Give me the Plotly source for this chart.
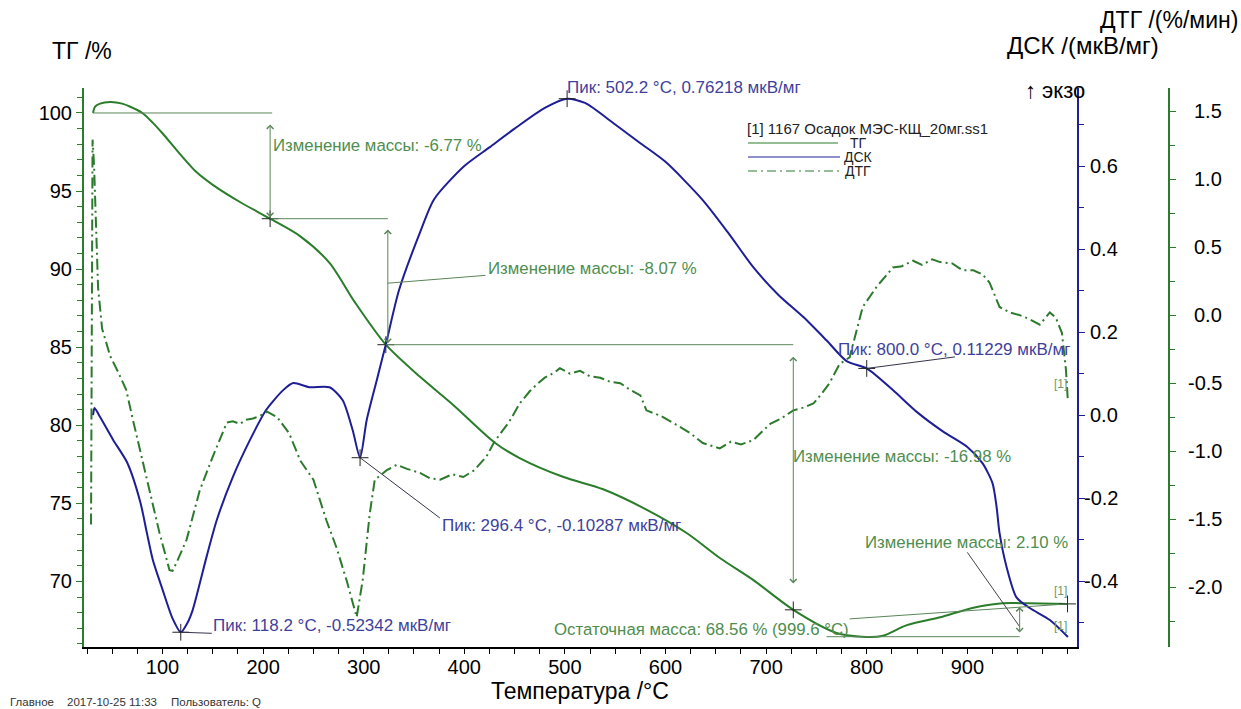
import plotly.graph_objects as go

# ---------------- data ----------------
tg_temp = [31, 33, 38, 48, 60, 68, 80, 90, 100, 117, 134, 150, 177, 207, 237, 266, 291, 322,
           356, 389, 430, 455, 498, 538, 581, 621, 654, 687, 727, 770, 795, 815, 840, 873,
           905, 935, 960, 999.6]
tg_val = [100.0, 100.4, 100.6, 100.7, 100.6, 100.4, 100.0, 99.4, 98.7, 97.4, 96.2, 95.4, 94.3,
          93.23, 92.1, 90.4, 87.9, 85.16, 83.1, 81.3, 78.9, 77.9, 76.7, 75.9, 74.6, 73.1, 71.5,
          70.1, 68.18, 66.7, 66.46, 66.5, 67.2, 67.7, 68.3, 68.6, 68.6, 68.56]

dsc_temp = [31, 32.5, 38, 51, 65, 78, 84.5, 90.5, 100, 110, 118.2, 125, 130, 144, 154, 170, 187,
            203, 220, 230, 246, 266, 279, 289, 296.4, 303, 313, 322, 335, 356, 370, 400, 425,
            450, 480, 502.2, 520, 550, 575, 600, 637, 662, 687, 712, 737, 760, 780, 800, 826,
            850, 876, 900, 915, 925, 929, 932, 939, 949, 962, 982, 1000]
dsc_val = [0.0, 0.017, -0.005, -0.06, -0.115, -0.21, -0.284, -0.35, -0.42, -0.49, -0.52342,
           -0.50, -0.47, -0.34, -0.253, -0.149, -0.06, 0.012, 0.06, 0.077, 0.067, 0.067, 0.036,
           -0.036, -0.10287, -0.012, 0.084, 0.17, 0.30, 0.44, 0.52, 0.60, 0.645, 0.69, 0.74,
           0.76218, 0.752, 0.70, 0.655, 0.61, 0.518, 0.44, 0.357, 0.29, 0.236, 0.18, 0.13,
           0.11229, 0.06, 0.007, -0.04, -0.077, -0.116, -0.164, -0.22, -0.284, -0.366, -0.44,
           -0.465, -0.494, -0.535]

dtg_temp = [29, 30.5, 32, 34, 36, 40, 48, 56, 64, 70, 77, 87, 97, 107, 110, 114, 124, 137, 150,
            164, 170, 177, 183, 190, 197, 204, 214, 226, 237, 250, 263, 273, 283, 293, 299, 306,
            311, 323, 333, 343, 356, 366, 376, 388, 399, 410, 422, 430, 438, 445, 455, 465, 472,
            480, 490, 495, 505, 515, 525, 535, 545, 555, 565, 575, 581, 595, 614, 625, 637, 646,
            654, 665, 675, 687, 695, 704, 715, 727, 737, 747, 755, 763, 773, 783, 796, 810, 826,
            835, 846, 855, 865, 873, 885, 895, 906, 915, 922, 932, 942, 952, 962, 972, 982, 988,
            994, 998, 1000]
dtg_val = [-1.54, 1.29, 1.1, 0.7, 0.2, -0.1, -0.3, -0.42, -0.55, -0.75, -0.97, -1.29, -1.6,
           -1.875, -1.88, -1.82, -1.65, -1.29, -1.04, -0.79, -0.78, -0.80, -0.77, -0.76, -0.74,
           -0.71, -0.75, -0.87, -1.07, -1.21, -1.51, -1.71, -1.95, -2.22, -1.95, -1.46, -1.21,
           -1.14, -1.10, -1.13, -1.16, -1.20, -1.21, -1.17, -1.19, -1.14, -1.04, -0.93, -0.85,
           -0.78, -0.65, -0.56, -0.51, -0.46, -0.42, -0.39, -0.43, -0.41, -0.45, -0.46, -0.49,
           -0.50, -0.55, -0.59, -0.70, -0.74, -0.82, -0.87, -0.94, -0.96, -0.98, -0.93, -0.95,
           -0.92, -0.86, -0.80, -0.76, -0.70, -0.68, -0.65, -0.58, -0.50, -0.36, -0.31, 0.06,
           0.21, 0.35, 0.36, 0.40, 0.37, 0.41, 0.39, 0.38, 0.33, 0.33, 0.30, 0.24, 0.06, 0.02,
           0.0, -0.03, -0.07, 0.02, -0.02, -0.13, -0.40, -0.64]

# marked points on TG
tg_mark_temp = [207.0, 322.0, 727.0, 999.6]
tg_mark_val = [93.23, 85.16, 68.18, 68.56]
tg_min_temp = 795.0
tg_min_val = 66.46

# DSC peaks
peak_temp = [118.2, 296.4, 502.2, 800.0]
peak_val = [-0.52342, -0.10287, 0.76218, 0.11229]

mass_labels = ["Изменение массы: -6.77 %", "Изменение массы: -8.07 %",
               "Изменение массы: -16.98 %", "Изменение массы: 2.10 %"]
residual_label = "Остаточная масса: 68.56 % (999.6 °C)"

x_ticks = [100, 200, 300, 400, 500, 600, 700, 800, 900]
tg_ticks = [70, 75, 80, 85, 90, 95, 100]
dsc_ticks = [-0.4, -0.2, 0.0, 0.2, 0.4, 0.6]
dsc_tick_text = ["-0.4", "-0.2", "0.0", "0.2", "0.4", "0.6"]
dtg_ticks = [-2.0, -1.5, -1.0, -0.5, 0.0, 0.5, 1.0, 1.5]
dtg_tick_text = ["-2.0", "-1.5", "-1.0", "-0.5", "0.0", "0.5", "1.0", "1.5"]

# ---------------- layout geometry ----------------
W, H = 1241, 709
ML, MR, MT, MB = 84, 72, 88, 62
PW = W - ML - MR
PH = H - MT - MB


def px(x):
    return (x - ML) / PW


def py(y):
    return (H - MB - y) / PH


FONT = "Liberation Sans, Arial, sans-serif"
TG_C = "#2a7d2a"
DTG_C = "#2c7a2c"
DSC_C = "#1e1e96"
TXT_G = "#4e8e4e"
LINE_G = "#5a855a"
PEAK_T = "#3f3f9c"
LEAD = "#34344a"

fig = go.Figure()

fig.add_trace(go.Scatter(x=tg_temp, y=tg_val, mode="lines", yaxis="y",
                         line=dict(color=TG_C, width=2, shape="spline", smoothing=0.8),
                         showlegend=False, hoverinfo="skip"))
fig.add_trace(go.Scatter(x=dsc_temp, y=dsc_val, mode="lines", yaxis="y2",
                         line=dict(color=DSC_C, width=2, shape="spline", smoothing=0.7),
                         showlegend=False, hoverinfo="skip"))
fig.add_trace(go.Scatter(x=dtg_temp, y=dtg_val, mode="lines", yaxis="y3",
                         line=dict(color=DTG_C, width=2, dash="11px,4px,2px,4px"),
                         showlegend=False, hoverinfo="skip"))

# crosses
fig.add_trace(go.Scatter(x=tg_mark_temp, y=tg_mark_val, mode="markers", yaxis="y",
                         marker=dict(symbol="cross-thin", size=12,
                                     line=dict(color="#222222", width=1)),
                         showlegend=False, hoverinfo="skip"))
fig.add_trace(go.Scatter(x=peak_temp, y=peak_val, mode="markers", yaxis="y2",
                         marker=dict(symbol="cross-thin", size=12,
                                     line=dict(color="#222222", width=1)),
                         showlegend=False, hoverinfo="skip"))

shapes = []


def seg(x0, y0, x1, y1, yref="y", color=LINE_G, width=1, dash=None):
    ln = dict(color=color, width=width)
    if dash:
        ln["dash"] = dash
    shapes.append(dict(type="line", xref="x", yref=yref, x0=x0, y0=y0, x1=x1, y1=y1,
                       line=ln, layer="above"))


# TG step guide lines
seg(31, 100.0, 209, 100.0)
seg(tg_mark_temp[0], tg_mark_val[0], 324, tg_mark_val[0])
seg(tg_mark_temp[1], tg_mark_val[1], tg_mark_temp[2], tg_mark_val[1])
seg(324, 89.1, 421, 89.6)
seg(760, tg_min_val, 952, tg_min_val)
seg(783, 67.6, tg_mark_temp[3], tg_mark_val[3])
seg(900, 71.86, 952, 67.1, color="#444444")

# DSC peak leaders
seg(peak_temp[0], peak_val[0], 149, -0.526, yref="y2", color=LEAD)
seg(peak_temp[1], peak_val[1], 375.7, -0.248, yref="y2", color=LEAD)
seg(peak_temp[3], peak_val[3], 887.7, 0.14, yref="y2", color=LEAD)


# legend samples (paper coords)
def pseg(x0, y0, x1, y1, color, dash=None):
    ln = dict(color=color, width=1)
    if dash:
        ln["dash"] = dash
    shapes.append(dict(type="line", xref="paper", yref="paper", x0=px(x0), y0=py(y0),
                       x1=px(x1), y1=py(y1), line=ln))


pseg(748, 143, 838, 143, TG_C)
pseg(748, 157, 840, 157, DSC_C)
pseg(748, 171, 842, 171, DTG_C, dash="9px,4px,2px,4px")

annotations = []


def arrow2(x, y_tip_top, y_tip_bot):
    annotations.append(dict(x=x, y=y_tip_bot, ax=x, ay=y_tip_top, xref="x", yref="y",
                            axref="x", ayref="y", text="", showarrow=True,
                            arrowhead=4, startarrowhead=4, arrowside="end+start",
                            arrowsize=1.3, startarrowsize=1.3, arrowwidth=1,
                            arrowcolor=LINE_G))


arrow2(tg_mark_temp[0], 99.36, 93.33)
arrow2(324, 92.63, 85.26)
arrow2(tg_mark_temp[2], 84.49, 69.87)
arrow2(952, 68.46, 66.73)


def text(t, x, y, color="black", size=16, xanchor="left", yanchor="middle"):
    annotations.append(dict(text=t, x=px(x), y=py(y), xref="paper", yref="paper",
                            xanchor=xanchor, yanchor=yanchor, showarrow=False,
                            font=dict(family=FONT, size=size, color=color)))


# mass change labels
MS = 16.8
text(mass_labels[0], 271, 145, TXT_G, size=MS)
text(mass_labels[1], 486, 268, TXT_G, size=MS)
text(mass_labels[2], 791, 456, TXT_G, size=MS)
text(mass_labels[3], 863, 542, TXT_G, size=MS)
text(residual_label, 552, 629, TXT_G, size=MS)

# peak labels
peak_pos = [(211, 625), (440, 525), (565, 87), (836, 349)]
for t, v, (xx, yy) in zip(peak_temp, peak_val, peak_pos):
    text(f"Пик: {t:.1f} °C, {v:.5f} мкВ/мг", xx, yy, PEAK_T, size=17)

# small [1] markers
text("[1]", 1052, 384, "#6b9a6b", size=12)
text("[1]", 1052, 591, "#6b9a6b", size=12)
text("[1]", 1052, 626, "#6b9a6b", size=12)

# axis titles
text("ТГ /%", 82, 51, size=23, xanchor="center")
text("ДТГ /(%/мин)", 1240, 20, size=23, xanchor="right")
text("ДСК /(мкВ/мг)", 1161, 45, size=24, xanchor="right")
text("↑ экзо", 1087, 90, size=22, xanchor="right")
text("Температура /°C", 580, 691, size=23, xanchor="center")

# legend text
text("[1] 1167 Осадок МЭС-КЩ_20мг.ss1", 745, 128, "#222222", size=15)
text("ТГ", 858, 143, "#222222", size=14, xanchor="center")
text("ДСК", 858, 157, "#222222", size=14, xanchor="center")
text("ДТГ", 858, 171, "#222222", size=14, xanchor="center")

# footer
text("Главное", 8, 702, "#333333", size=11.5)
text("2017-10-25 11:33", 65, 702, "#333333", size=11.5)
text("Пользователь: Q", 169, 702, "#333333", size=11.5)

# right-axis tick labels (right aligned)
for v, t in zip(dsc_ticks, dsc_tick_text):
    annotations.append(dict(text=t, x=px(1120), y=v, xref="paper", yref="y2",
                            xanchor="right", yanchor="middle", showarrow=False,
                            font=dict(family=FONT, size=20, color="black")))
for v, t in zip(dtg_ticks, dtg_tick_text):
    annotations.append(dict(text=t, x=px(1224), y=v, xref="paper", yref="y3",
                            xanchor="right", yanchor="middle", showarrow=False,
                            font=dict(family=FONT, size=20, color="black")))

fig.update_layout(
    width=W, height=H,
    margin=dict(l=ML, r=MR, t=MT, b=MB, pad=0),
    paper_bgcolor="white", plot_bgcolor="white",
    font=dict(family=FONT, color="black"),
    showlegend=False,
    xaxis=dict(domain=[0, px(1077)], range=[22, 1009], tickvals=x_ticks,
               ticks="outside", ticklen=5, tickwidth=1, tickcolor="black",
               ticklabelstandoff=-4,
               minor=dict(tickmode="linear", tick0=0, dtick=25, ticks="outside",
                          ticklen=5, tickcolor="black"),
               showline=True, linecolor="black", linewidth=2,
               showgrid=False, zeroline=False,
               tickfont=dict(family=FONT, size=20, color="black")),
    yaxis=dict(range=[65.8, 101.6], tickvals=tg_ticks, ticks="outside", ticklen=6,
               tickwidth=1, tickcolor=TG_C,
               minor=dict(tickmode="linear", tick0=0, dtick=1, ticks="outside",
                          ticklen=5, tickcolor=TG_C),
               showline=True, linecolor=TG_C, linewidth=2, showgrid=False,
               zeroline=False, tickfont=dict(family=FONT, size=20, color="black")),
    yaxis2=dict(overlaying="y", side="right", anchor="x", range=[-0.559, 0.788],
                tickmode="linear", tick0=0, dtick=0.2, ticks="outside", ticklen=6,
                tickcolor=DSC_C, showticklabels=False,
                minor=dict(tickmode="linear", tick0=0, dtick=0.1, ticks="outside",
                           ticklen=5, tickcolor=DSC_C),
                showline=True, linecolor=DSC_C, linewidth=2, showgrid=False,
                zeroline=False),
    yaxis3=dict(overlaying="y", side="right", anchor="free", position=1.0,
                range=[-2.44, 1.67], tickmode="linear", tick0=0, dtick=0.5,
                ticks="outside", ticklen=6, tickcolor=DTG_C, showticklabels=False,
                minor=dict(tickmode="linear", tick0=0, dtick=0.25, ticks="outside",
                           ticklen=5, tickcolor=DTG_C),
                showline=True, linecolor=DTG_C, linewidth=2, showgrid=False,
                zeroline=False),
    shapes=shapes,
    annotations=annotations,
)

fig.write_html("out.html", config={"displayModeBar": False},
               post_script="document.body.style.margin='0';document.body.style.padding='0';")
